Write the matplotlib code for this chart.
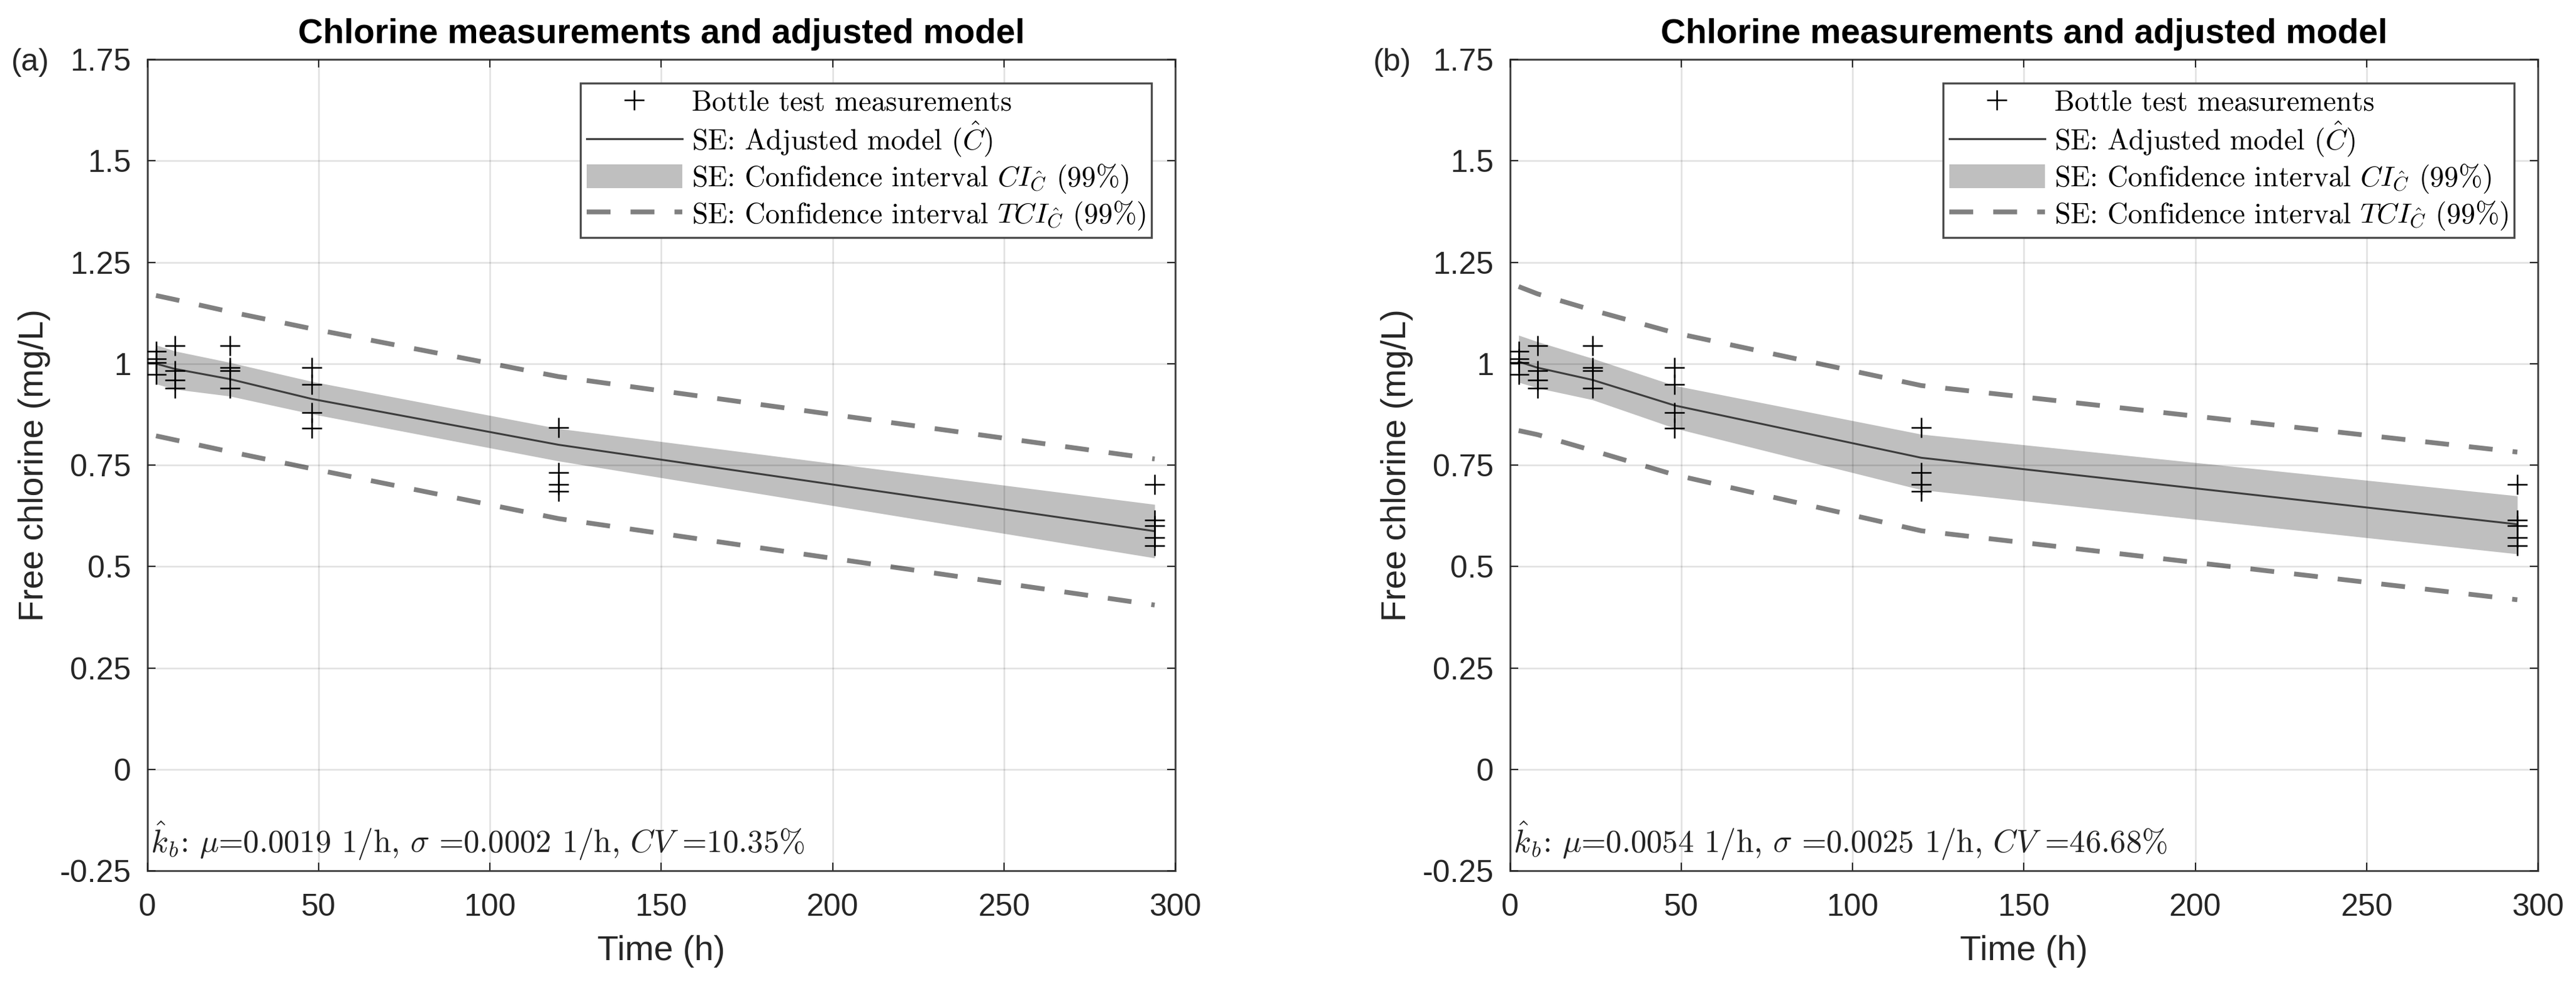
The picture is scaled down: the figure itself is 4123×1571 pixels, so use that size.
import numpy as np
import matplotlib.pyplot as plt

plt.rcParams['font.family'] = ['Liberation Sans', 'DejaVu Sans']
plt.rcParams['mathtext.fontset'] = 'cm'

# Bottle test measurements (same in both panels)
meas_t = [2.5] * 4 + [8] * 4 + [24] * 4 + [48] * 4 + [120] * 4 + [294] * 5
meas_c = [1.030, 1.012, 1.002, 0.973,
          1.044, 0.983, 0.959, 0.940,
          1.044, 0.991, 0.983, 0.940,
          0.991, 0.949, 0.879, 0.841,
          0.842, 0.732, 0.703, 0.686,
          0.702, 0.614, 0.600, 0.571, 0.552]

# times where the model is evaluated
model_t = [2.5, 8, 24, 48, 120, 294]

# panel (a)
model_a = [1.000, 0.987, 0.962, 0.913, 0.800, 0.587]
ci_lo_a = [0.950, 0.937, 0.920, 0.876, 0.760, 0.521]
ci_hi_a = [1.046, 1.031, 1.003, 0.956, 0.840, 0.653]
tci_lo_a = [0.822, 0.812, 0.783, 0.741, 0.618, 0.405]
tci_hi_a = [1.168, 1.158, 1.128, 1.086, 0.968, 0.765]

# panel (b)
model_b = [1.005, 0.990, 0.960, 0.897, 0.768, 0.604]
ci_lo_b = [0.954, 0.940, 0.911, 0.841, 0.689, 0.531]
ci_hi_b = [1.070, 1.054, 1.013, 0.946, 0.826, 0.674]
tci_lo_b = [0.835, 0.825, 0.786, 0.726, 0.588, 0.418]
tci_hi_b = [1.190, 1.172, 1.132, 1.076, 0.946, 0.782]

xticks = [0, 50, 100, 150, 200, 250, 300]
yticks = [-0.25, 0, 0.25, 0.5, 0.75, 1, 1.25, 1.5, 1.75]
ytick_labels = ['-0.25', '0', '0.25', '0.5', '0.75', '1', '1.25', '1.5', '1.75']

panel_tags = ['(a)', '(b)']
kb_texts = [r'$\hat{k}_b$: $\mu$=0.0019 1/h, $\sigma$ =0.0002 1/h, $CV$ =10.35%',
            r'$\hat{k}_b$: $\mu$=0.0054 1/h, $\sigma$ =0.0025 1/h, $CV$ =46.68%']

txt_col = '#262626'
fig = plt.figure(figsize=(41.23, 15.71), dpi=100)

panels = [(model_a, ci_lo_a, ci_hi_a, tci_lo_a, tci_hi_a),
          (model_b, ci_lo_b, ci_hi_b, tci_lo_b, tci_hi_b)]
lefts = [0.05724, 0.58622]
tag_x = [0.00437, 0.5331]

for i, (model, ci_lo, ci_hi, tci_lo, tci_hi) in enumerate(panels):
    ax = fig.add_axes([lefts[i], 0.1133, 0.39898, 0.82623])

    ax.plot(meas_t, meas_c, linestyle='none', marker='+', color='black',
            markersize=23, markeredgewidth=1.8, zorder=4,
            label='Bottle test measurements')
    ax.plot(model_t, model, color='#3c3c3c', linewidth=2.2, zorder=3.5,
            label=r'SE: Adjusted model ($\hat{C}$)')
    ax.fill_between(model_t, ci_lo, ci_hi, color='#bfbfbf', linewidth=0,
                    zorder=1, label=r'SE: Confidence interval $CI_{\hat{C}}$ (99%)')
    ax.plot(model_t, tci_hi, color='#808080', linewidth=5.5, dashes=(5, 4.2),
            dash_capstyle='butt', zorder=2,
            label=r'SE: Confidence interval $TCI_{\hat{C}}$ (99%)')
    ax.plot(model_t, tci_lo, color='#808080', linewidth=5.5, dashes=(5, 4.2),
            dash_capstyle='butt', zorder=2)

    ax.set_xlim(0, 300)
    ax.set_ylim(-0.25, 1.75)
    ax.set_xticks(xticks)
    ax.set_yticks(yticks)
    ax.set_yticklabels(ytick_labels)
    ax.tick_params(direction='in', top=True, right=True, length=9.4, width=1.5,
                   color=txt_col, labelcolor=txt_col, labelsize=36)
    ax.tick_params(axis='x', pad=26)
    ax.tick_params(axis='y', pad=19)
    # MATLAB-style grid drawn over the band
    ax.grid(True, color='black', alpha=0.12, linewidth=1.8)
    ax.set_axisbelow(False)
    for sp in ax.spines.values():
        sp.set_color('#4d4d4d')
        sp.set_linewidth(2.2)

    ax.set_title('Chlorine measurements and adjusted model', fontsize=39.8,
                 fontweight='bold', color='black', pad=19)
    ax.set_xlabel('Time (h)', fontsize=40, color=txt_col)
    ax.set_ylabel('Free chlorine (mg/L)', fontsize=40, color=txt_col)
    ax.xaxis.set_label_coords(0.5, -0.079)
    ax.yaxis.set_label_coords(-0.094, 0.5)

    ax.text(1, -0.205, kb_texts[i], family='cmr10', fontsize=36.5,
            color='#222222', va='baseline', ha='left')

    leg = ax.legend(loc='upper right', prop={'family': 'cmr10', 'size': 33},
                    handlelength=3.35, handletextpad=0.32, handleheight=0.9,
                    labelspacing=0.12, borderpad=0.2, borderaxespad=0.83,
                    fancybox=False, framealpha=1, numpoints=1)
    leg.get_frame().set_edgecolor('#4d4d4d')
    leg.get_frame().set_linewidth(2.4)

    fig.text(tag_x[i], 0.9363, panel_tags[i], fontsize=36, color=txt_col,
             va='center', ha='left')

fig.savefig('out.png', dpi=100)
